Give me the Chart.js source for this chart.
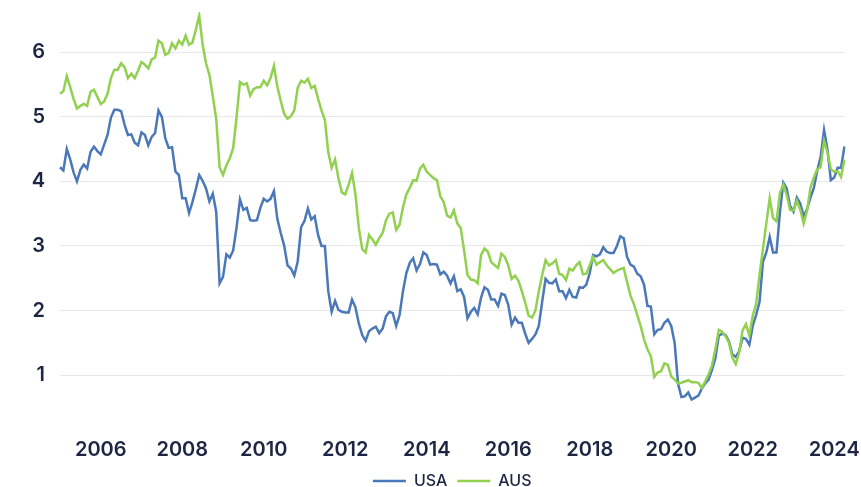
<!DOCTYPE html>
<html lang="en">
<head>
  <meta charset="UTF-8" />
  <title>USA vs AUS 10 year yields</title>
  <script src="https://cdn.jsdelivr.net/npm/chart.js"></script>
  <style>
    html, body { margin: 0; padding: 0; background: #fff; }
    #wrap { width: 861px; height: 487px; }
  </style>
</head>
<body>
  <div id="wrap"><canvas id="yieldChart"></canvas></div>

  <script>
    // monthly, Jan 2005 .. Apr 2024
    const startYear = 2005;
    const monthCount = 232;
    const yTicks = [1, 2, 3, 4, 5, 6];

    const usa = [
      4.22, 4.17, 4.50, 4.34, 4.14, 4.00, 4.18, 4.26, 4.20, 4.46, 4.54, 4.47,
      4.42, 4.57, 4.72, 4.99, 5.11, 5.11, 5.09, 4.88, 4.72, 4.73, 4.60, 4.56,
      4.76, 4.72, 4.56, 4.69, 4.75, 5.10, 5.00, 4.67, 4.52, 4.53, 4.15, 4.10,
      3.74, 3.74, 3.51, 3.68, 3.88, 4.10, 4.01, 3.89, 3.69, 3.81, 3.53, 2.42,
      2.52, 2.87, 2.82, 2.93, 3.29, 3.72, 3.56, 3.59, 3.40, 3.39, 3.40, 3.59,
      3.73, 3.69, 3.73, 3.85, 3.42, 3.20, 3.01, 2.70, 2.65, 2.54, 2.76, 3.29,
      3.39, 3.58, 3.41, 3.46, 3.17, 3.00, 3.00, 2.30, 1.98, 2.15, 2.01, 1.98,
      1.97, 1.97, 2.17, 2.05, 1.80, 1.62, 1.53, 1.68, 1.72, 1.75, 1.65, 1.72,
      1.91, 1.98, 1.96, 1.76, 1.93, 2.30, 2.58, 2.74, 2.81, 2.62, 2.72, 2.90,
      2.86, 2.71, 2.72, 2.71, 2.56, 2.60, 2.54, 2.42, 2.53, 2.30, 2.33, 2.21,
      1.88, 1.98, 2.04, 1.94, 2.20, 2.36, 2.32, 2.17, 2.17, 2.07, 2.26, 2.24,
      2.09, 1.78, 1.89, 1.81, 1.81, 1.64, 1.50, 1.56, 1.63, 1.76, 2.14, 2.49,
      2.43, 2.42, 2.48, 2.30, 2.30, 2.19, 2.32, 2.21, 2.20, 2.36, 2.35, 2.40,
      2.58, 2.86, 2.84, 2.87, 2.98, 2.91, 2.89, 2.89, 3.00, 3.15, 3.12, 2.83,
      2.71, 2.68, 2.57, 2.53, 2.40, 2.07, 2.06, 1.63, 1.70, 1.71, 1.81, 1.86,
      1.76, 1.50, 0.87, 0.66, 0.67, 0.73, 0.62, 0.65, 0.68, 0.79, 0.87, 0.93,
      1.08, 1.26, 1.61, 1.64, 1.62, 1.52, 1.32, 1.28, 1.37, 1.58, 1.56, 1.47,
      1.76, 1.93, 2.13, 2.75, 2.90, 3.14, 2.90, 2.90, 3.52, 3.98, 3.89, 3.62,
      3.53, 3.75, 3.66, 3.46, 3.57, 3.75, 3.90, 4.17, 4.38, 4.80, 4.50, 4.02,
      4.06, 4.21, 4.21, 4.54
    ];

    const aus = [
      5.36, 5.40, 5.63, 5.46, 5.28, 5.13, 5.17, 5.20, 5.17, 5.39, 5.42, 5.31,
      5.20, 5.24, 5.36, 5.60, 5.73, 5.73, 5.83, 5.77, 5.60, 5.67, 5.60, 5.72,
      5.85, 5.81, 5.75, 5.89, 5.92, 6.18, 6.14, 5.96, 5.99, 6.14, 6.06, 6.18,
      6.12, 6.26, 6.12, 6.15, 6.35, 6.57, 6.12, 5.83, 5.65, 5.32, 4.97, 4.22,
      4.10, 4.25, 4.36, 4.52, 5.00, 5.54, 5.50, 5.52, 5.33, 5.43, 5.46, 5.46,
      5.56, 5.49, 5.60, 5.79, 5.47, 5.25, 5.05, 4.97, 5.01, 5.10, 5.45, 5.56,
      5.53, 5.59, 5.45, 5.48, 5.28, 5.10, 4.95, 4.45, 4.21, 4.34, 4.05, 3.83,
      3.80, 3.95, 4.13, 3.80, 3.28, 2.95, 2.90, 3.17, 3.10, 3.02, 3.12, 3.20,
      3.40, 3.50, 3.52, 3.25, 3.33, 3.60, 3.80, 3.90, 4.02, 4.01, 4.20, 4.26,
      4.15, 4.10, 4.05, 4.02, 3.77, 3.68, 3.47, 3.44, 3.55, 3.35, 3.28, 2.93,
      2.55, 2.48, 2.47, 2.42, 2.86, 2.96, 2.91, 2.75, 2.70, 2.66, 2.88, 2.83,
      2.70, 2.49, 2.54, 2.46, 2.30, 2.12, 1.92, 1.89, 2.00, 2.30, 2.55, 2.78,
      2.70, 2.73, 2.78, 2.57, 2.55, 2.47, 2.65, 2.62, 2.70, 2.75, 2.56, 2.57,
      2.70, 2.83, 2.71, 2.75, 2.78, 2.70, 2.64, 2.58, 2.62, 2.64, 2.66, 2.44,
      2.23, 2.10, 1.93, 1.76, 1.55, 1.40, 1.29, 0.97, 1.04, 1.06, 1.18, 1.16,
      0.98, 0.93, 0.87, 0.88, 0.90, 0.92, 0.89, 0.89, 0.88, 0.80, 0.90, 1.01,
      1.15, 1.40, 1.70, 1.67, 1.60, 1.50, 1.27, 1.17, 1.35, 1.69, 1.79, 1.61,
      1.92, 2.10, 2.55, 2.95, 3.35, 3.74, 3.43, 3.38, 3.82, 3.95, 3.79, 3.56,
      3.55, 3.70, 3.56, 3.35, 3.55, 3.90, 4.06, 4.19, 4.22, 4.63, 4.45, 4.19,
      4.15, 4.16, 4.07, 4.34
    ];

    const months = [];
    for (let i = 0; i < monthCount; i++) {
      const y = startYear + Math.floor(i / 12);
      const m = (i % 12) + 1;
      months.push(y + "-" + String(m).padStart(2, "0"));
    }

    const textColor = "#1c2541";

    const ctx = document.getElementById("yieldChart").getContext("2d");
    new Chart(ctx, {
      type: "line",
      data: {
        labels: months,
        datasets: [
          {
            label: "USA",
            data: usa,
            borderColor: "#4a78b8",
            backgroundColor: "#4a78b8",
            borderWidth: 2.5,
            pointRadius: 0,
            tension: 0,
            order: 1
          },
          {
            label: "AUS",
            data: aus,
            borderColor: "#92d050",
            backgroundColor: "#92d050",
            borderWidth: 2.5,
            pointRadius: 0,
            tension: 0,
            order: 0
          }
        ]
      },
      options: {
        responsive: true,
        maintainAspectRatio: false,
        animation: false,
        layout: { padding: { left: 10, right: 16, top: 0, bottom: -12 } },
        scales: {
          x: {
            grid: { display: false },
            border: { display: false },
            ticks: {
              autoSkip: false,
              maxRotation: 0,
              padding: 1,
              color: textColor,
              font: { family: "Inter", size: 20, weight: "600" },
              callback: function (val, idx) {
                const lab = months[idx];
                const yr = +lab.slice(0, 4);
                return lab.endsWith("-01") && yr % 2 === 0 ? String(yr) : null;
              }
            }
          },
          y: {
            min: 0.164,
            max: 6.625,
            afterBuildTicks: function (scale) {
              scale.ticks = yTicks.map(v => ({ value: v }));
            },
            afterFit: function (scale) {
              scale.width = 50;
            },
            grid: { color: "#e8e8e8", tickLength: 15, tickColor: "rgba(0,0,0,0)" },
            border: { display: false },
            ticks: {
              padding: 0,
              color: textColor,
              font: { family: "Inter", size: 20, weight: "600" }
            }
          }
        },
        plugins: {
          tooltip: { enabled: false },
          legend: {
            position: "bottom",
            fullSize: false,
            labels: {
              usePointStyle: true,
              pointStyle: "line",
              pointStyleWidth: 33,
              padding: 10,
              color: textColor,
              font: { family: "Inter", size: 16, weight: "500" },
              sort: (a, b) => a.datasetIndex - b.datasetIndex
            }
          }
        }
      }
    });
  </script>
</body>
</html>
